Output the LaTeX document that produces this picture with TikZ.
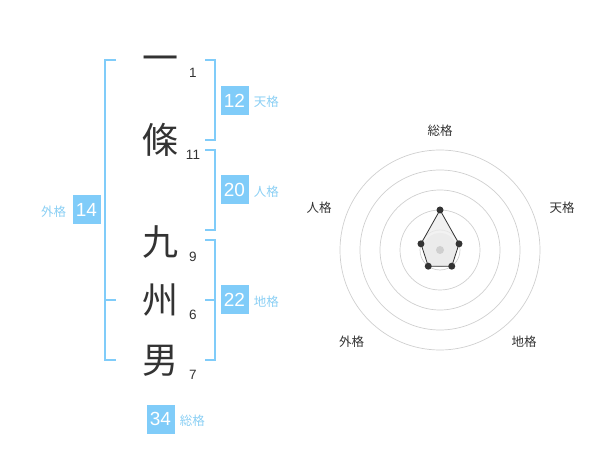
\documentclass[tikz,border=0pt]{standalone}
\usepackage{fontspec}
\setmainfont{Liberation Sans}
\newfontfamily\jp{Noto Sans CJK JP}
\usetikzlibrary{calc, positioning}
\definecolor{cBox}{HTML}{80CCF9}
\definecolor{cLabel}{HTML}{8ACFF4}
\definecolor{cRing}{HTML}{CFCFCF}
\definecolor{cArea}{HTML}{EDEDED}
\definecolor{ink}{HTML}{333333}

\begin{document}
\begin{tikzpicture}[
  % pixel grid of the reference, y pointing down
  x=1pt, y=-1pt,
  kanji/.style={font=\jp\fontsize{36}{36}\selectfont, text=ink,
                text height=31.7pt, text depth=4.3pt, inner sep=0pt},
  strokes/.style={font=\fontsize{13.5}{14}\selectfont, text=ink, inner sep=0pt},
  score/.style={fill=cBox, text=white, font=\fontsize{19}{19}\selectfont,
                minimum width=28pt, minimum height=29pt, inner sep=0pt},
  kaku/.style={font=\jp\fontsize{12.5}{13}\selectfont, text=cLabel, inner sep=0pt},
  brace/.style={draw=cBox, line width=2pt},
  ring/.style={draw=cRing, line width=0.7pt},
  axislab/.style={font=\jp\fontsize{12.5}{13}\selectfont, text=ink, inner sep=0pt},
  dot/.style={circle, fill=ink, inner sep=0pt, minimum size=7pt},
]
  \useasboundingbox (0,0) rectangle (600,470);

  % --- name, one character per row, with stroke counts ---
  \foreach \i/\y/\ch/\n in {1/58/一/1, 2/140/條/11, 3/242/九/9, 4/300/州/6, 5/360/男/7}{
    \node[kanji] (c\i) at (160,\y) {\ch};
    \node[strokes] (s\i) at (193,\y+15) {\n};
  }

  % --- brackets ---
  \draw[brace] (205,60) -- (215,60) -- (215,140) -- (205,140);
  \draw[brace] (205,150) -- (215,150) -- (215,230) -- (205,230);
  \draw[brace] (205,240) -- (215,240) -- (215,360) -- (205,360);
  \draw[brace] (205,300) -- (215,300);
  \draw[brace] (116,60) -- (105,60) -- (105,360) -- (116,360);
  \draw[brace] (105,300) -- (116,300);

  % --- scores ---
  \foreach \name/\x/\y/\val/\lab in {ten/234.5/100.5/12/天格, jin/234.5/190/20/人格,
                                     chi/234.5/300/22/地格, sou/160.5/419/34/総格}{
    \node[score] (\name) at (\x,\y) {\val};
    \node[kaku, right=5pt of \name, yshift=-1.5pt] (\name L) {\lab};
  }
  \node[score] (gai) at (86.5,210) {14};
  \node[kaku, left=6pt of gai, yshift=-1.5pt] (gaiL) {外格};

  % --- radar chart ---
  \begin{scope}[shift={(440,250)}, y=1pt]
    \foreach \r in {20,40,60,80,100}{
      \draw[ring] (0,0) circle (\r);
    }
    \fill[cArea!80!gray!60] (0,0) circle (17);
    \foreach \i/\ang/\r in {1/90/40, 2/18/20, 3/-54/20, 4/-126/20, 5/162/20}{
      \coordinate (p\i) at (\ang:\r);
    }
    \draw[fill=cArea, fill opacity=0.75, draw=ink, line width=0.8pt]
      (p1) -- (p2) -- (p3) -- (p4) -- (p5) -- cycle;
    \foreach \i in {1,...,5}{
      \node[dot] (d\i) at (p\i) {};
    }
    \node[circle, fill=cRing, inner sep=0pt, minimum size=8pt] (mid) at (0,0) {};
    \node[axislab] (a1) at (0,119.3) {総格};
    \node[axislab] (a2) at (122,42) {天格};
    \node[axislab] (a3) at (84,-92) {地格};
    \node[axislab] (a4) at (-88.3,-92) {外格};
    \node[axislab] (a5) at (-121,42) {人格};
  \end{scope}
\end{tikzpicture}
\end{document}
